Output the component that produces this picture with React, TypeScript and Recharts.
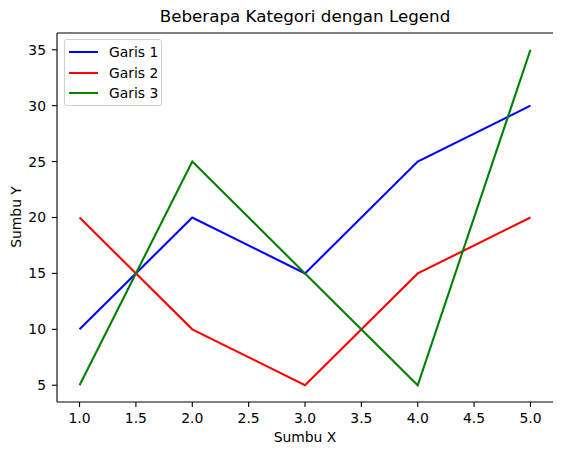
import React from "react";
import { LineChart, Line, XAxis, YAxis } from "recharts";

const xValues = [1, 2, 3, 4, 5];
const garis1 = [10, 20, 15, 25, 30];
const garis2 = [20, 10, 5, 15, 20];
const garis3 = [5, 25, 15, 5, 35];
const xTicks = [1, 1.5, 2, 2.5, 3, 3.5, 4, 4.5, 5];
const yTicks = [5, 10, 15, 20, 25, 30, 35];

const seriesInfo = [
  { key: "g1", name: "Garis 1", color: "#0000ff" },
  { key: "g2", name: "Garis 2", color: "#ff0000" },
  { key: "g3", name: "Garis 3", color: "#008000" },
];

const data = xValues.map((x, i) => ({ x, g1: garis1[i], g2: garis2[i], g3: garis3[i] }));

const FONT = "'DejaVu Sans', sans-serif";

const LegendBox = () => (
  <div
    style={{
      position: "absolute",
      left: 64,
      top: 39,
      width: 98,
      height: 67,
      border: "1px solid #d0d0d0",
      borderRadius: 3,
      background: "rgba(255,255,255,0.8)",
      padding: "2px 0 0 3px",
      boxSizing: "border-box",
      fontFamily: FONT,
      fontSize: 13.9,
      color: "#000",
      whiteSpace: "nowrap",
    }}
  >
    {seriesInfo.map((s) => (
      <div key={s.key} style={{ display: "flex", alignItems: "center", height: 20.5 }}>
        <div style={{ width: 29, height: 2, background: s.color, marginRight: 11, marginLeft: 1 }} />
        <span>{s.name}</span>
      </div>
    ))}
  </div>
);

export default function App() {
  return (
    <div style={{ position: "absolute", left: 0, top: 0, width: 562, height: 455, background: "#fff" }}>
      <LineChart
        width={562}
        height={455}
        data={data}
        margin={{ top: 32, right: 9, bottom: 23, left: 17 }}
      >
        <XAxis
          xAxisId="top"
          orientation="top"
          dataKey="x"
          type="number"
          domain={[0.8, 5.2]}
          height={1}
          tick={false}
          tickLine={false}
          axisLine={{ stroke: "#000", strokeWidth: 1.1 }}
        />
        <YAxis
          yAxisId="right"
          orientation="right"
          type="number"
          domain={[3.5, 36.5]}
          width={0}
          tick={false}
          tickLine={false}
          axisLine={{ stroke: "#000", strokeWidth: 1.1 }}
        />
        <XAxis
          dataKey="x"
          type="number"
          domain={[0.8, 5.2]}
          ticks={xTicks}
          tickFormatter={(v: number) => v.toFixed(1)}
          height={30}
          tickSize={5}
          tickMargin={6}
          interval={0}
          axisLine={{ stroke: "#000", strokeWidth: 1.1 }}
          tickLine={{ stroke: "#000", strokeWidth: 1.1 }}
          tick={{ fill: "#000", fontSize: 13.9, fontFamily: FONT }}
        />
        <YAxis
          type="number"
          domain={[3.5, 36.5]}
          ticks={yTicks}
          width={40}
          tickSize={5}
          tickMargin={6}
          interval={0}
          axisLine={{ stroke: "#000", strokeWidth: 1.1 }}
          tickLine={{ stroke: "#000", strokeWidth: 1.1 }}
          tick={{ fill: "#000", fontSize: 13.9, fontFamily: FONT }}
        />
        {seriesInfo.map((s) => (
          <Line
            key={s.key}
            dataKey={s.key}
            name={s.name}
            stroke={s.color}
            strokeWidth={2.1}
            dot={false}
            activeDot={false}
            isAnimationActive={false}
            type="linear"
          />
        ))}
      </LineChart>
      <LegendBox />
      <div
        style={{
          position: "absolute",
          left: 57,
          width: 496,
          top: 6,
          textAlign: "center",
          fontFamily: FONT,
          fontSize: 16.7,
          lineHeight: "20px",
          color: "#000",
        }}
      >
        Beberapa Kategori dengan Legend
      </div>
      <div
        style={{
          position: "absolute",
          left: 57,
          width: 496,
          top: 428,
          textAlign: "center",
          fontFamily: FONT,
          fontSize: 13.9,
          lineHeight: "18px",
          color: "#000",
        }}
      >
        Sumbu X
      </div>
      <div
        style={{
          position: "absolute",
          left: 16,
          top: 217,
          transform: "translate(-50%, -50%) rotate(-90deg)",
          fontFamily: FONT,
          fontSize: 13.9,
          lineHeight: "18px",
          color: "#000",
          whiteSpace: "nowrap",
        }}
      >
        Sumbu Y
      </div>
    </div>
  );
}
